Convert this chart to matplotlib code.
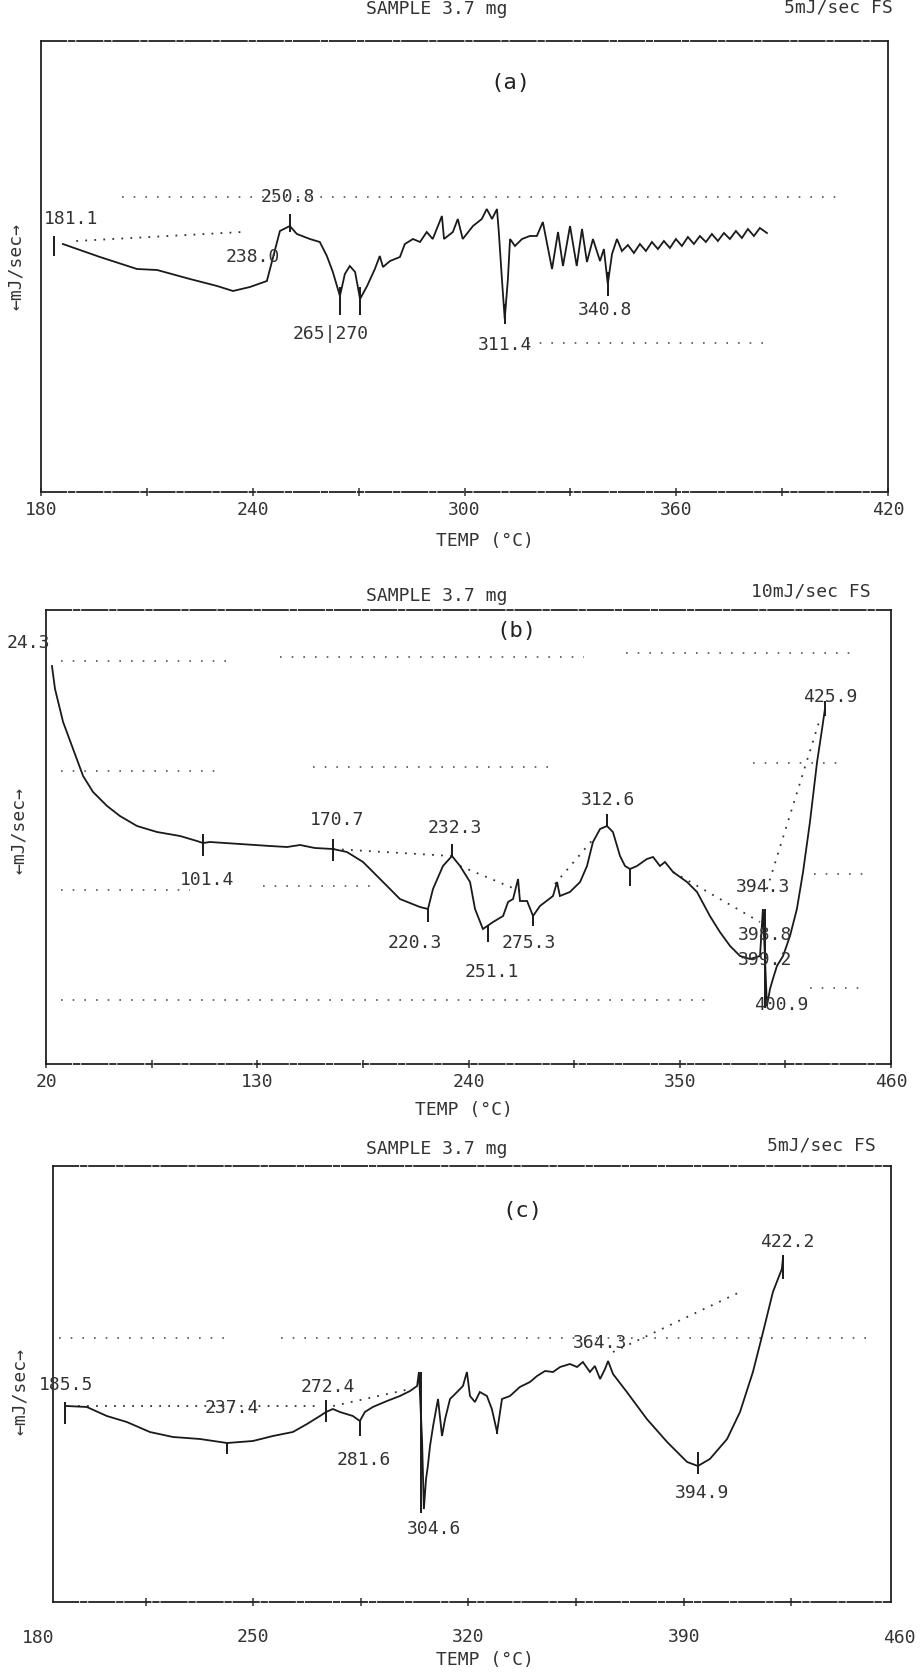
import matplotlib
matplotlib.use("Agg")
import matplotlib.pyplot as plt

plt.rcParams['font.family'] = ['DejaVu Sans Mono', 'DejaVu Sans']

# ---------------- panel (a) : 5 mJ/sec FS ----------------
a_temp = [186.2, 196.7, 207.2, 212.9, 222.2, 229.9, 234.4, 239.2, 244.0, 247.7,
          250.5, 252.5, 256.2, 259.0, 261.0, 262.7, 264.7, 266.1, 267.5, 269.0,
          270.4, 272.4, 274.6, 276.0, 276.9, 278.9, 281.7, 283.1, 285.4, 287.4,
          289.3, 291.0, 293.6, 294.2, 296.7, 298.1, 299.5, 302.4, 304.9, 306.3,
          307.8, 309.2, 309.7, 310.6, 311.4, 312.3, 312.9, 314.3, 316.3, 318.5,
          320.5, 322.2, 324.8, 326.5, 327.9, 329.9, 331.8, 333.3, 334.7, 336.4,
          338.4, 339.5, 340.6, 341.8, 343.2, 344.6, 346.3, 348.0, 349.7, 351.4,
          353.1, 354.8, 356.5, 358.2, 359.9, 361.6, 363.3, 365.0, 366.7, 368.4,
          370.1, 371.8, 373.5, 375.2, 376.9, 378.6, 380.3, 382.0, 383.7, 385.7]
a_flow = [24.8, 23.5, 22.3, 22.2, 21.3, 20.6, 20.1, 20.5, 21.1, 26.1,
          26.6, 25.8, 25.3, 25.0, 23.6, 22.0, 19.6, 21.8, 22.6, 22.0,
          19.3, 20.6, 22.3, 23.6, 22.5, 23.1, 23.5, 24.8, 25.3, 25.0,
          26.0, 25.3, 27.6, 25.3, 26.0, 27.3, 25.3, 26.6, 27.3, 28.3,
          27.3, 28.3, 26.1, 21.3, 17.3, 21.3, 25.3, 24.6, 25.3, 25.6,
          25.6, 27.0, 22.3, 26.0, 22.6, 26.6, 22.6, 26.3, 23.0, 25.3,
          23.1, 24.3, 20.8, 23.8, 25.3, 24.1, 24.7, 23.9, 24.8, 24.1,
          25.0, 24.3, 25.1, 24.4, 25.3, 24.6, 25.5, 24.8, 25.6, 25.0,
          25.8, 25.1, 25.9, 25.3, 26.1, 25.4, 26.3, 25.6, 26.4, 25.9]
a_mark_T = [183.7, 250.5, 264.7, 270.4, 311.4, 340.6]
a_mark_lo = [23.6, 26.0, 17.7, 17.7, 16.8, 19.6]
a_mark_hi = [25.6, 27.8, 20.5, 20.5, 18.8, 22.0]
a_lab_text = ['181.1', '250.8', '238.0', '265|270', '311.4', '340.8']
a_lab_T = [188.5, 250.0, 240.0, 262.0, 311.4, 339.8]
a_lab_v = [27.4, 29.6, 23.6, 15.9, 14.8, 18.3]
a_grid_T0 = [203.0, 318.0]
a_grid_T1 = [407.0, 386.0]
a_grid_v = [29.5, 14.9]
a_base_T0 = [190.0]
a_base_v0 = [25.1]
a_base_T1 = [237.0]
a_base_v1 = [26.0]
a_major = [180, 240, 300, 360, 420]
a_minor = [210, 270, 330, 390]

# ---------------- panel (b) : 10 mJ/sec FS ----------------
b_temp = [23.1, 24.7, 28.9, 34.1, 39.3, 44.5, 51.8, 58.5, 67.4, 77.8,
          89.8, 98.6, 101.7, 105.4, 121.0, 136.6, 145.5, 152.3, 160.0, 169.4,
          176.7, 185.1, 195.5, 204.3, 214.7, 218.9, 221.5, 226.7, 231.4, 235.6,
          240.8, 243.4, 247.5, 252.8, 258.0, 260.6, 263.2, 265.8, 266.8, 270.5,
          273.6, 277.2, 284.0, 286.1, 287.6, 292.8, 298.1, 301.7, 304.8, 308.5,
          312.1, 315.2, 318.9, 321.5, 324.1, 327.7, 332.9, 336.1, 339.7, 342.3,
          346.5, 353.8, 359.0, 365.7, 370.9, 376.2, 381.4, 386.6, 391.8, 393.3,
          394.4, 395.4, 397.0, 398.5, 400.6, 403.8, 407.4, 411.0, 414.2, 417.8,
          421.5, 424.1, 425.6]
b_flow = [39.8, 37.5, 34.2, 31.5, 28.8, 27.2, 25.8, 24.8, 23.8, 23.2,
          22.8, 22.3, 22.1, 22.2, 22.0, 21.8, 21.7, 21.9, 21.6, 21.5,
          21.2, 20.2, 18.2, 16.5, 15.7, 15.5, 17.5, 19.8, 20.8, 19.8,
          18.2, 15.5, 13.5, 14.2, 14.8, 16.2, 16.5, 18.5, 16.3, 16.3,
          14.8, 15.8, 16.8, 18.2, 16.8, 17.2, 18.2, 19.8, 22.2, 23.5,
          23.8, 23.2, 20.8, 19.8, 19.5, 19.8, 20.5, 20.7, 19.8, 20.2,
          19.2, 18.2, 17.2, 14.8, 13.2, 11.8, 10.8, 10.5, 10.8, 15.5,
          10.5, 5.8, 7.5, 8.5, 9.8, 10.8, 12.8, 15.5, 19.2, 24.2,
          30.2, 33.5, 35.5]
b_mark_T = [101.7, 169.4, 218.9, 231.4, 250.2, 273.6, 312.1, 324.1, 394.4, 425.6]
b_mark_lo = [20.8, 20.3, 14.2, 20.8, 12.2, 13.8, 23.8, 17.8, 5.6, 34.8]
b_mark_hi = [23.0, 22.5, 15.5, 22.0, 13.8, 14.8, 25.0, 19.5, 15.5, 36.3]
b_lab_text = ['24.3', '101.4', '170.7', '232.3', '220.3', '275.3', '251.1',
              '312.6', '394.3', '398.8', '399.2', '400.9', '425.9']
b_lab_T = [11.0, 103.8, 171.5, 233.0, 212.0, 271.5, 252.2,
           312.6, 393.5, 394.4, 394.4, 402.7, 428.2]
b_lab_v = [42.2, 18.5, 24.5, 23.7, 12.2, 12.2, 9.3,
           26.5, 17.8, 13.0, 10.5, 6.0, 36.8]
b_grid_T0 = [28, 142, 322, 28, 159, 388, 28, 133, 420, 28, 418]
b_grid_T1 = [119, 300, 441, 111, 285, 434, 95, 190, 448, 367, 445]
b_grid_v = [40.3, 40.7, 41.1, 29.3, 29.7, 30.1, 17.4, 17.8, 19.0, 6.4, 7.6]
b_base_T0 = [169.4, 235.6, 285.0, 346.5, 395.4]
b_base_v0 = [21.5, 19.8, 18.0, 19.2, 17.5]
b_base_T1 = [231.4, 266.8, 305.0, 391.8, 423.0]
b_base_v1 = [20.8, 17.3, 22.5, 14.2, 34.5]
b_major = [20, 130, 240, 350, 460]
b_minor = [75, 185, 295, 405]

# ---------------- panel (c) : 5 mJ/sec FS ----------------
c_temp = [189.4, 195.9, 202.4, 208.9, 216.4, 223.9, 232.7, 241.5, 249.9, 256.4,
          262.9, 267.5, 271.7, 273.7, 275.9, 278.2, 282.4, 284.7, 286.3, 288.9,
          293.5, 297.7, 301.0, 303.3, 303.9, 304.9, 305.5, 306.2, 306.8, 307.5,
          308.5, 310.1, 311.4, 312.4, 314.0, 316.3, 318.2, 319.5, 320.5, 322.1,
          323.7, 326.0, 327.6, 329.3, 330.9, 333.5, 336.7, 340.0, 342.3, 344.9,
          347.5, 349.8, 353.0, 355.3, 357.2, 359.5, 361.1, 362.8, 364.4, 365.4,
          367.0, 371.5, 378.0, 384.6, 391.1, 394.6, 398.5, 404.1, 408.3, 412.5,
          415.8, 419.0, 421.9, 422.3]
c_flow = [19.3, 19.2, 18.3, 17.7, 16.7, 16.2, 16.0, 15.6, 15.8, 16.3,
          16.7, 17.5, 18.3, 18.7, 19.0, 18.7, 18.3, 17.8, 18.7, 19.2,
          19.8, 20.3, 20.8, 21.3, 22.7, 16.0, 9.0, 12.0, 13.3, 15.3,
          17.3, 20.0, 16.3, 18.0, 20.0, 20.7, 21.3, 22.7, 20.3, 19.7,
          20.7, 20.3, 19.0, 16.7, 20.0, 20.3, 21.2, 21.7, 22.3, 22.8,
          22.7, 23.2, 23.5, 23.2, 23.7, 22.7, 23.3, 22.0, 23.0, 23.8,
          22.5, 20.7, 18.0, 15.7, 13.7, 13.3, 14.0, 16.0, 18.7, 22.7,
          26.7, 30.7, 33.0, 34.2]
c_mark_T = [188.8, 241.5, 273.7, 284.7, 304.6, 329.3, 394.6, 422.3]
c_mark_lo = [17.5, 14.5, 17.7, 16.3, 8.6, 16.5, 12.5, 32.0]
c_mark_hi = [19.7, 15.6, 19.9, 17.8, 22.7, 17.2, 14.7, 34.4]
c_lab_text = ['185.5', '237.4', '272.4', '281.6', '304.6', '364.3', '394.9', '422.2']
c_lab_T = [189.0, 243.0, 274.3, 286.0, 308.8, 362.8, 395.9, 423.6]
c_lab_v = [21.5, 19.2, 21.3, 14.0, 7.1, 25.7, 10.7, 35.8]
c_grid_T0 = [187.0, 259.0]
c_grid_T1 = [241.0, 450.0]
c_grid_v = [26.1, 26.1]
c_base_T0 = [193.0, 276.0, 367.0]
c_base_v0 = [19.3, 19.3, 24.7]
c_base_T1 = [272.0, 301.0, 408.3]
c_base_v1 = [19.3, 21.0, 30.7]
c_major = [250, 320, 390]
c_minor = [215, 285, 355, 425]
c_edge_labels = [180, 460]

# ---------------- drawing ----------------
W, H = 922, 1674
fig = plt.figure(figsize=(W / 100, H / 100), dpi=100)
fig.patch.set_facecolor('white')

INK = '#1a1a1a'
TXT = '#333333'
DOT = '#555555'
FS = 13


def px_rect(left, top, right, bottom):
    return [left / W, 1 - bottom / H, (right - left) / W, (bottom - top) / H]


def ftext(x, y, s, **kw):
    kw.setdefault('fontsize', FS)
    kw.setdefault('color', TXT)
    fig.text(x / W, 1 - y / H, s, ha=kw.pop('ha', 'center'), va=kw.pop('va', 'center'), **kw)


def panel(rect, xlim, ylim, T, F, mT, mlo, mhi, lt, lT, lv,
          gT0, gT1, gv, bT0, bv0, bT1, bv1, major, minor, tag, tagpos, pad):
    ax = fig.add_axes(rect)
    ax.set_xlim(*xlim)
    ax.set_ylim(*ylim)
    ax.set_yticks([])
    for name, sp in ax.spines.items():
        sp.set_linewidth(1.3)
        sp.set_color('#222222')
    ax.spines['top'].set_linestyle((0, (14, 1.5, 3, 1.5)))
    ax.spines['bottom'].set_linestyle((0, (14, 1.5, 3, 1.5)))
    ax.set_xticks(major)
    ax.set_xticklabels([str(m) for m in major])
    ax.set_xticks(minor, minor=True)
    ax.tick_params(axis='x', which='both', direction='inout', length=6, width=1.1,
                   color='#333333', labelsize=FS, labelcolor=TXT, pad=pad)
    # grid-like dotted lines
    for t0, t1, v in zip(gT0, gT1, gv):
        ax.plot([t0, t1], [v, v], color=DOT, lw=1.2, ls=(0, (1, 6)))
    for t0, v0, t1, v1 in zip(bT0, bv0, bT1, bv1):
        ax.plot([t0, t1], [v0, v1], color='#333333', lw=1.3, ls=(0, (1, 4)))
    # thermogram
    ax.plot(T, F, color=INK, lw=1.3, solid_joinstyle='miter')
    ax.vlines(mT, mlo, mhi, color=INK, lw=1.4)
    for s, t, v in zip(lt, lT, lv):
        ax.text(t, v, s, ha='center', va='center', fontsize=FS, color=TXT, clip_on=False)
    ax.text(tagpos[0], tagpos[1], tag, ha='center', va='center', fontsize=16, color='#222222')
    return ax


ax_a = panel(px_rect(41, 42, 888, 493), (180, 420), (0, 45.1), a_temp, a_flow,
             a_mark_T, a_mark_lo, a_mark_hi, a_lab_text, a_lab_T, a_lab_v,
             a_grid_T0, a_grid_T1, a_grid_v, a_base_T0, a_base_v0, a_base_T1, a_base_v1,
             a_major, a_minor, '(a)', (313.0, 41.0), 3)
ax_b = panel(px_rect(46, 611, 891, 1065), (20, 460), (0, 45.4), b_temp, b_flow,
             b_mark_T, b_mark_lo, b_mark_hi, b_lab_text, b_lab_T, b_lab_v,
             b_grid_T0, b_grid_T1, b_grid_v, b_base_T0, b_base_v0, b_base_T1, b_base_v1,
             b_major, b_minor, '(b)', (265.0, 43.4), 3)
ax_c = panel(px_rect(53, 1167, 891, 1603), (184.9, 457.4), (-0.3, 43.3), c_temp, c_flow,
             c_mark_T, c_mark_lo, c_mark_hi, c_lab_text, c_lab_T, c_lab_v,
             c_grid_T0, c_grid_T1, c_grid_v, c_base_T0, c_base_v0, c_base_T1, c_base_v1,
             c_major, c_minor, '(c)', (337.7, 38.9), 15)
for t in c_edge_labels:
    ax_c.text(t, -0.080, str(t), transform=ax_c.get_xaxis_transform(),
              ha='center', va='center', fontsize=FS, color=TXT, clip_on=False)

# headers
ftext(437, 9, 'SAMPLE 3.7 mg')
ftext(838, 8, '5mJ/sec FS')
ftext(437, 596, 'SAMPLE 3.7 mg')
ftext(811, 591, '10mJ/sec FS')
ftext(437, 1149, 'SAMPLE 3.7 mg')
ftext(821, 1146, '5mJ/sec FS')

# axis titles
ftext(485, 541, 'TEMP (°C)')
ftext(464, 1110, 'TEMP (°C)')
ftext(485, 1660, 'TEMP (°C)')
ftext(16, 267, '←mJ/sec→', rotation=90)
ftext(19, 830, '←mJ/sec→', rotation=90)
ftext(20, 1392, '←mJ/sec→', rotation=90)

fig.savefig('out.png', dpi=100, facecolor='white')
